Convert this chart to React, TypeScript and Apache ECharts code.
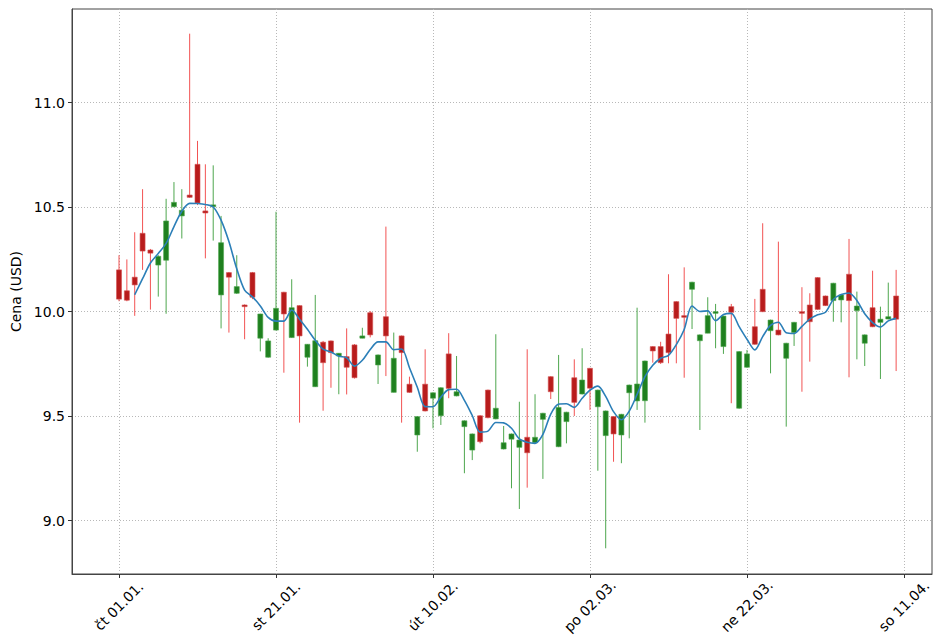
import React, { useEffect, useRef } from "react";
import * as echarts from "echarts";

// Day index 0 = Thu 01.01.
const opens = [
  10.20, 10.10, 10.165, 10.375, 10.295, 10.223, 10.246, 10.502, 10.458, 10.558,
  10.705, 10.482, 10.502, 10.08, 10.187, 10.088, 10.032, 10.187, 9.873, 9.782,
  9.912, 10.093, 9.876, 10.029, 9.782, 9.641, 9.854, 9.86, 9.788, 9.785,
  9.841, 9.873, 9.995, 9.745, 9.976, 9.614, 9.884, 9.653, 9.41, 9.653,
  9.586, 9.502, 9.798, 9.597, 9.45, 9.338, 9.502, 9.625, 9.487, 9.343,
  9.39, 9.351, 9.399, 9.373, 9.485, 9.689, 9.354, 9.474, 9.684, 9.606,
  9.729, 9.545, 9.407, 9.498, 9.41, 9.612, 9.573, 9.574, 9.833, 9.833,
  9.893, 10.048, 9.981, 10.107, 9.861, 9.897, 9.992, 9.833, 10.024, 9.538,
  9.734, 9.928, 10.107, 9.909, 9.912, 9.777, 9.90, 10.0, 10.032, 10.163,
  10.075, 10.053, 10.056, 10.179, 10.005, 9.849, 10.019, 9.949, 9.965, 10.075,
];
const closes = [
  10.06, 10.055, 10.128, 10.29, 10.28, 10.265, 10.434, 10.523, 10.485, 10.547,
  10.52, 10.472, 10.511, 10.33, 10.165, 10.12, 10.024, 10.069, 9.989, 9.86,
  10.016, 9.989, 10.019, 9.884, 9.844, 9.861, 9.756, 9.804, 9.801, 9.734,
  9.684, 9.884, 9.889, 9.793, 9.884, 9.777, 9.804, 9.614, 9.498, 9.525,
  9.612, 9.636, 9.633, 9.617, 9.478, 9.415, 9.378, 9.493, 9.538, 9.373,
  9.415, 9.386, 9.325, 9.399, 9.514, 9.617, 9.542, 9.519, 9.566, 9.673,
  9.634, 9.625, 9.525, 9.415, 9.509, 9.649, 9.654, 9.764, 9.812, 9.756,
  9.804, 9.968, 9.973, 10.141, 9.889, 9.981, 10.0, 9.979, 9.997, 9.809,
  9.798, 9.844, 10.0, 9.96, 9.889, 9.849, 9.949, 9.992, 9.952, 10.011,
  10.029, 10.136, 10.08, 10.053, 10.027, 9.889, 9.928, 9.964, 9.976, 9.964,
];
const lows = [
  10.05, 10.05, 9.98, 10.20, 10.01, 10.072, 9.99, 10.50, 10.35, 10.545,
  10.51, 10.255, 10.34, 9.92, 9.90, 10.085, 9.868, 10.06, 9.81, 9.78,
  9.91, 9.708, 9.875, 9.469, 9.737, 9.64, 9.526, 9.636, 9.605, 9.604,
  9.68, 9.873, 9.877, 9.654, 9.692, 9.614, 9.469, 9.612, 9.33, 9.523,
  9.442, 9.458, 9.586, 9.595, 9.227, 9.29, 9.37, 9.49, 9.485, 9.341,
  9.155, 9.056, 9.158, 9.371, 9.20, 9.582, 9.352, 9.37, 9.501, 9.604,
  9.53, 9.239, 8.868, 9.282, 9.275, 9.394, 9.53, 9.469, 9.756, 9.75,
  9.753, 9.753, 9.684, 9.917, 9.434, 9.897, 9.825, 9.798, 9.562, 9.536,
  9.732, 9.842, 9.998, 9.705, 9.887, 9.45, 9.836, 9.617, 9.761, 10.009,
  10.027, 9.952, 9.949, 9.686, 9.772, 9.74, 9.926, 9.678, 9.963, 9.716,
];
const highs = [
  10.27, 10.25, 10.38, 10.586, 10.30, 10.27, 10.54, 10.62, 10.586, 11.33,
  10.817, 10.705, 10.70, 10.458, 10.19, 10.27, 10.035, 10.19, 9.99, 9.873,
  10.478, 10.095, 10.155, 10.03, 9.845, 10.08, 9.86, 9.862, 9.802, 9.92,
  9.845, 9.923, 10.003, 9.795, 10.407, 9.90, 9.886, 9.689, 9.50, 9.82,
  9.614, 9.638, 9.897, 9.788, 9.48, 9.417, 9.505, 9.627, 9.892, 9.453,
  9.417, 9.569, 9.82, 9.605, 9.516, 9.691, 9.793, 9.521, 9.772, 9.825,
  9.731, 9.627, 9.527, 9.50, 9.511, 9.651, 10.019, 9.766, 9.835, 9.856,
  10.179, 10.05, 10.212, 10.143, 9.891, 10.069, 10.037, 9.981, 10.037, 9.811,
  9.817, 10.061, 10.423, 9.962, 10.335, 9.851, 9.951, 10.117, 10.088, 10.165,
  10.077, 10.138, 10.082, 10.348, 10.096, 9.891, 10.196, 10.024, 10.139, 10.2,
];

const tickDays = [0, 20, 40, 60, 80, 100];
const tickLabels = ["čt 01.01.", "st 21.01.", "út 10.02.", "po 02.03.", "ne 22.03.", "so 11.04."];
const yTicks = [9.0, 9.5, 10.0, 10.5, 11.0];
const maWindow = 3;

const FONT = "DejaVu Sans";

export default function App() {
  const ref = useRef<HTMLDivElement>(null);
  useEffect(() => {
    document.body.style.margin = "0";
    if (!ref.current) return;
    const chart = echarts.init(ref.current, null, { renderer: "svg" });

    const ohlc = opens.map((o, i) => [i, o, closes[i], lows[i], highs[i]]);
    const ma: (number[])[] = [];
    for (let i = maWindow - 1; i < closes.length; i++) {
      let s = 0;
      for (let k = 0; k < maWindow; k++) s += closes[i - k];
      ma.push([i, s / maWindow]);
    }

    const gridColor = "#b8b8b8";
    chart.setOption({
      animation: false,
      grid: {
        left: 72,
        right: 2,
        top: 9,
        bottom: 63,
        containLabel: false,
        outerBoundsMode: "none",
        show: true,
        borderColor: "#444",
        borderWidth: 1,
        backgroundColor: "#fff",
      },
      xAxis: {
        type: "value",
        min: -5.99,
        max: 103.57,
        axisLine: { show: true, onZero: false, lineStyle: { color: "#444", width: 1 } },
        axisTick: {
          show: true,
          length: 4,
          customValues: tickDays,
          lineStyle: { color: "#333" },
        },
        axisLabel: {
          customValues: tickDays,
          formatter: (v: number) => {
            const idx = tickDays.indexOf(Math.round(v));
            return idx >= 0 ? tickLabels[idx] : "";
          },
          rotate: 45,
          align: "center",
          verticalAlign: "middle",
          margin: 32,
          fontFamily: FONT,
          fontSize: 14,
          color: "#000",
        },
        splitLine: {
          show: true,
          lineStyle: { type: [1, 2], color: gridColor, width: 1 },
        },
      },
      yAxis: {
        type: "value",
        min: 8.745,
        max: 11.448,
        name: "Cena (USD)",
        nameLocation: "middle",
        nameGap: 48,
        nameTextStyle: { fontFamily: FONT, fontSize: 14, color: "#000" },
        axisLine: { show: true, onZero: false, lineStyle: { color: "#444", width: 1 } },
        axisTick: {
          show: true,
          length: 4,
          customValues: yTicks,
          lineStyle: { color: "#333" },
        },
        axisLabel: {
          customValues: yTicks,
          formatter: (v: number) => v.toFixed(1),
          margin: 7,
          fontFamily: FONT,
          fontSize: 14,
          color: "#000",
        },
        splitLine: {
          show: true,
          lineStyle: { type: [1, 2], color: gridColor, width: 1 },
        },
      },
      series: [
        {
          type: "custom",
          data: ohlc,
          encode: { x: 0, y: [1, 2, 3, 4] },
          clip: true,
          renderItem: (params: any, api: any) => {
            const x = api.value(0);
            const o = api.value(1);
            const c = api.value(2);
            const l = api.value(3);
            const h = api.value(4);
            const pO = api.coord([x, o]);
            const pC = api.coord([x, c]);
            const pL = api.coord([x, l]);
            const pH = api.coord([x, h]);
            const up = c >= o;
            const w = 5;
            const top = Math.min(pO[1], pC[1]);
            const hgt = Math.max(Math.abs(pO[1] - pC[1]), 1.2);
            return {
              type: "group",
              children: [
                {
                  type: "line",
                  shape: { x1: pH[0], y1: pH[1], x2: pL[0], y2: pL[1] },
                  style: { stroke: up ? "#2f962f" : "#f03535", lineWidth: 1, opacity: 0.85 },
                },
                {
                  type: "rect",
                  shape: { x: pO[0] - w / 2, y: top, width: w, height: hgt },
                  style: {
                    fill: up ? "#1f801f" : "#b81c1c",
                    stroke: up ? "#4da64d" : "#d45050",
                    lineWidth: 0.6,
                  },
                },
              ],
            };
          },
          z: 2,
        },
        {
          type: "line",
          data: ma,
          showSymbol: false,
          smooth: 0.3,
          lineStyle: { color: "#2c7fb8", width: 1.6 },
          z: 3,
        },
      ],
    });
    return () => chart.dispose();
  }, []);
  return (
    <div
      ref={ref}
      style={{ position: "fixed", left: 0, top: 0, width: 934, height: 637, background: "#fff" }}
    />
  );
}
